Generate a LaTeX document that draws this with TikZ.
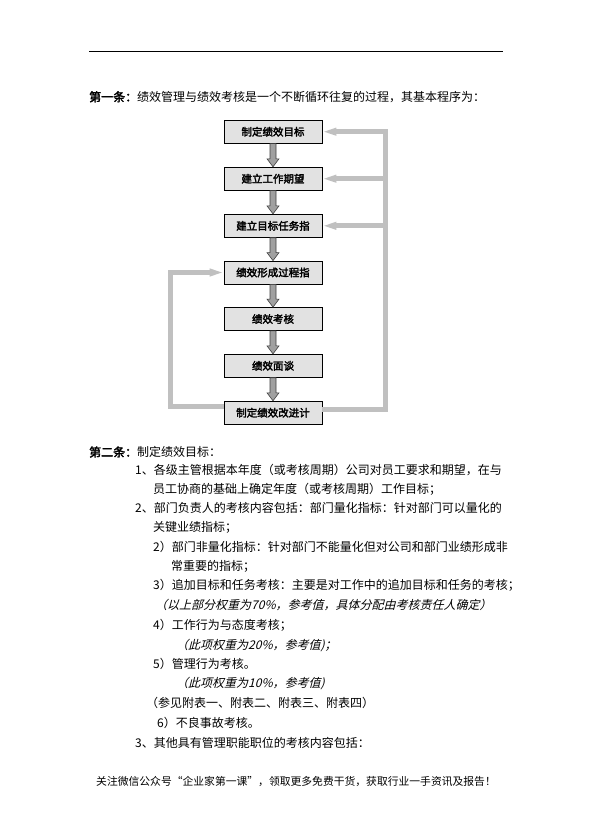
\documentclass[tikz,border=0pt]{standalone}
\usepackage{fontspec}
\setmainfont{Noto Sans CJK SC}
\newfontfamily\cjk{Noto Sans CJK SC}
\newfontfamily\cjkb[FakeBold=2.5]{Noto Sans CJK SC}
\newfontfamily\cjki[FakeSlant=0.25]{Noto Sans CJK SC}
\usetikzlibrary{arrows.meta,calc}
\tikzset{
  stepbox/.style={draw=black, line width=0.8pt, fill=boxgray, minimum width=98pt, minimum height=23pt, inner sep=0pt,
    font=\cjkb\fontsize{10.5}{10.5}\selectfont},
  body/.style={anchor=base west, inner sep=0pt, font=\cjk\fontsize{12}{12}\selectfont},
  bodyit/.style={anchor=base west, inner sep=0pt, font=\cjki\fontsize{12}{12}\selectfont},
  foot/.style={anchor=base west, inner sep=0pt, font=\cjk\fontsize{10.8}{10.8}\selectfont},
  fb/.style={draw=fbgray, line width=5pt, line join=miter},
  fbarrow/.style={fb, -{Triangle[length=14pt,width=7pt]}},
  blockarrow/.style={draw=arrowdark, fill=arrowgray, line width=0.6pt,
    to path={let \p1=(\tikztostart), \p2=(\tikztotarget) in
      (\x1-3pt,\y1) -- (\x1+3pt,\y1) -- (\x1+3pt,\y2+8pt) -- (\x1+6pt,\y2+8pt) -- (\x2,\y2)
      -- (\x1-6pt,\y2+8pt) -- (\x1-3pt,\y2+8pt) -- cycle}}
}
\definecolor{boxgray}{HTML}{E2E2E2}
\definecolor{fbgray}{HTML}{C0C0C0}
\definecolor{arrowgray}{HTML}{A0A0A0}
\definecolor{arrowdark}{HTML}{404040}
\begin{document}
\begin{tikzpicture}[x=1pt,y=-1pt]
\useasboundingbox (0,0) rectangle (592,835);
\fill[white] (0,0) rectangle (592,835);
% top rule
\coordinate (rl) at (89,51);
\coordinate (rr) at (503,51);
\draw[line width=0.8pt] (rl) -- (rr);
% heading
\node[body] (h1) at (89,101.4) {{\cjkb 第一条：}绩效管理与绩效考核是一个不断循环往复的过程，其基本程序为：};
% flowchart boxes
\node[stepbox] (b1) at (273,131.7) {制定绩效目标};
\node[stepbox] (b2) at (273,178.7) {建立工作期望};
\node[stepbox] (b3) at (273,225.8) {建立目标任务指};
\node[stepbox] (b4) at (273,272.5) {绩效形成过程指};
\node[stepbox] (b5) at (273,319) {绩效考核};
\node[stepbox] (b6) at (273,365.8) {绩效面谈};
\node[stepbox] (b7) at (273,412.7) {制定绩效改进计};
% down block arrows
\draw[blockarrow] (b1.south) to (b2.north);
\draw[blockarrow] (b2.south) to (b3.north);
\draw[blockarrow] (b3.south) to (b4.north);
\draw[blockarrow] (b4.south) to (b5.north);
\draw[blockarrow] (b5.south) to (b6.north);
\draw[blockarrow] (b6.south) to (b7.north);
% right feedback
\coordinate (rb) at (385.5,409);
\coordinate (rt) at (385.5,131.7);
\draw[fbarrow] ([yshift=3.7pt]b7.east) -- (rb) -- (rt) -- (b1.east);
\draw[fbarrow] (rt |- b2.east) -- (b2.east);
\draw[fbarrow] (rt |- b3.east) -- (b3.east);
% left loop
\coordinate (lb) at (170,406);
\coordinate (lt) at (170,272.5);
\draw[fbarrow] ([yshift=6.7pt]b7.west) -- (lb) -- (lt) -- (b4.west);
% body text
\node[body] (t1) at (89,456.6) {{\cjkb 第二条：}制定绩效目标：};
\node[body] (t2) at (135,474.6) {1、各级主管根据本年度（或考核周期）公司对员工要求和期望，在与};
\node[body] (t3) at (153,493.6) {员工协商的基础上确定年度（或考核周期）工作目标；};
\node[body] (t4) at (135,512.6) {2、部门负责人的考核内容包括：部门量化指标：针对部门可以量化的};
\node[body] (t5) at (153,531.6) {关键业绩指标；};
\node[body] (t6) at (153,551.6) {2）部门非量化指标：针对部门不能量化但对公司和部门业绩形成非};
\node[body] (t7) at (171,570.6) {常重要的指标；};
\node[body] (t8) at (153,589.6) {3）追加目标和任务考核：主要是对工作中的追加目标和任务的考核；};
\node[bodyit] (t9) at (155,609.6) {（以上部分权重为70\%，参考值，具体分配由考核责任人确定）};
\node[body] (t10) at (153,629.6) {4）工作行为与态度考核；};
\node[bodyit] (t11) at (176,649.6) {（此项权重为20\%，参考值)；};
\node[body] (t12) at (153,668.6) {5）管理行为考核。};
\node[bodyit] (t13) at (176,687.6) {（此项权重为10\%，参考值)};
\node[body] (t14) at (146,707.6) {（参见附表一、附表二、附表三、附表四）};
\node[body] (t15) at (157,727.6) {6）不良事故考核。};
\node[body] (t16) at (135,747.6) {3、其他具有管理职能职位的考核内容包括：};
% footer
\node[foot] (ft) at (96,785) {关注微信公众号“企业家第一课”，领取更多免费干货，获取行业一手资讯及报告！};
\end{tikzpicture}
\end{document}
